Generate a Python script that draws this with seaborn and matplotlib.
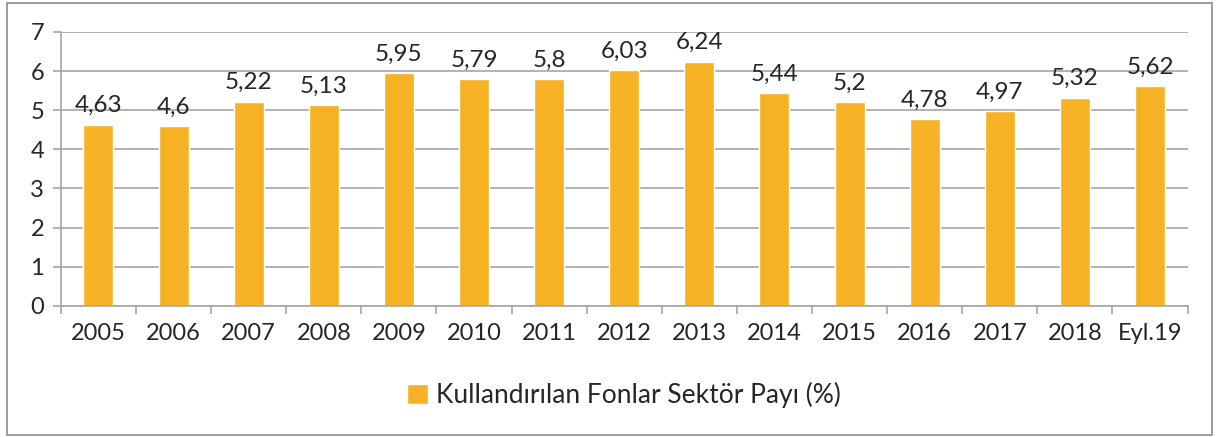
import numpy as np
import pandas as pd
import seaborn as sns
import matplotlib.pyplot as plt
from matplotlib.patches import Rectangle

# data
years = ["2005", "2006", "2007", "2008", "2009", "2010", "2011", "2012",
         "2013", "2014", "2015", "2016", "2017", "2018", "Eyl.19"]
share = [4.63, 4.6, 5.22, 5.13, 5.95, 5.79, 5.8, 6.03,
         6.24, 5.44, 5.2, 4.78, 4.97, 5.32, 5.62]
series_name = "Kullandırılan Fonlar Sektör Payı (%)"

df = pd.DataFrame({"Yil": years, "Pay": share})

sns.set_style("white")
plt.rcParams['font.family'] = ['Lato', 'DejaVu Sans']

fig = plt.figure(figsize=(12.18, 4.37), dpi=100)
ax = fig.add_axes([0.050, 0.300, 0.925, 0.627])

bar_color = "#F6B224"
sns.barplot(data=df, x="Yil", y="Pay", color=bar_color, width=0.4,
            saturation=1, label=series_name, ax=ax)

# data labels with comma decimals
labels = [("%g" % v).replace(".", ",") for v in share]
ax.bar_label(ax.containers[0], labels=labels, padding=6, fontsize=17.5)

ax.set_ylim(0, 7)
ax.set_xlim(-0.5, len(years) - 0.5)
ax.set_yticks(range(0, 8))
ax.yaxis.grid(True, color="#A6A6A6", linewidth=1.2)
ax.set_axisbelow(True)
ax.set_xlabel("")
ax.set_ylabel("")

for side in ["top", "right"]:
    ax.spines[side].set_visible(False)
for side in ["left", "bottom"]:
    ax.spines[side].set_color("#A6A6A6")
    ax.spines[side].set_linewidth(1.2)

ax.tick_params(axis="y", labelsize=17, length=6, color="#A6A6A6", width=1.2, pad=6, left=True)
ax.tick_params(axis="x", which="major", labelsize=17, length=0, pad=12)
ax.set_xticks(np.arange(-0.5, len(years), 1), minor=True)
ax.tick_params(axis="x", which="minor", length=6, color="#A6A6A6", width=1.2, bottom=True)

ax.legend(loc="center", bbox_to_anchor=(0.5, -0.325), frameon=False, fontsize=19,
          handlelength=0.8, handleheight=0.8, handletextpad=0.3)

# outer frame
fig.patches.append(Rectangle((0.006, 0.005), 0.989, 0.988, transform=fig.transFigure,
                             fill=False, edgecolor="#8C8C8C", linewidth=1.2))

fig.savefig("out.png", dpi=100)
